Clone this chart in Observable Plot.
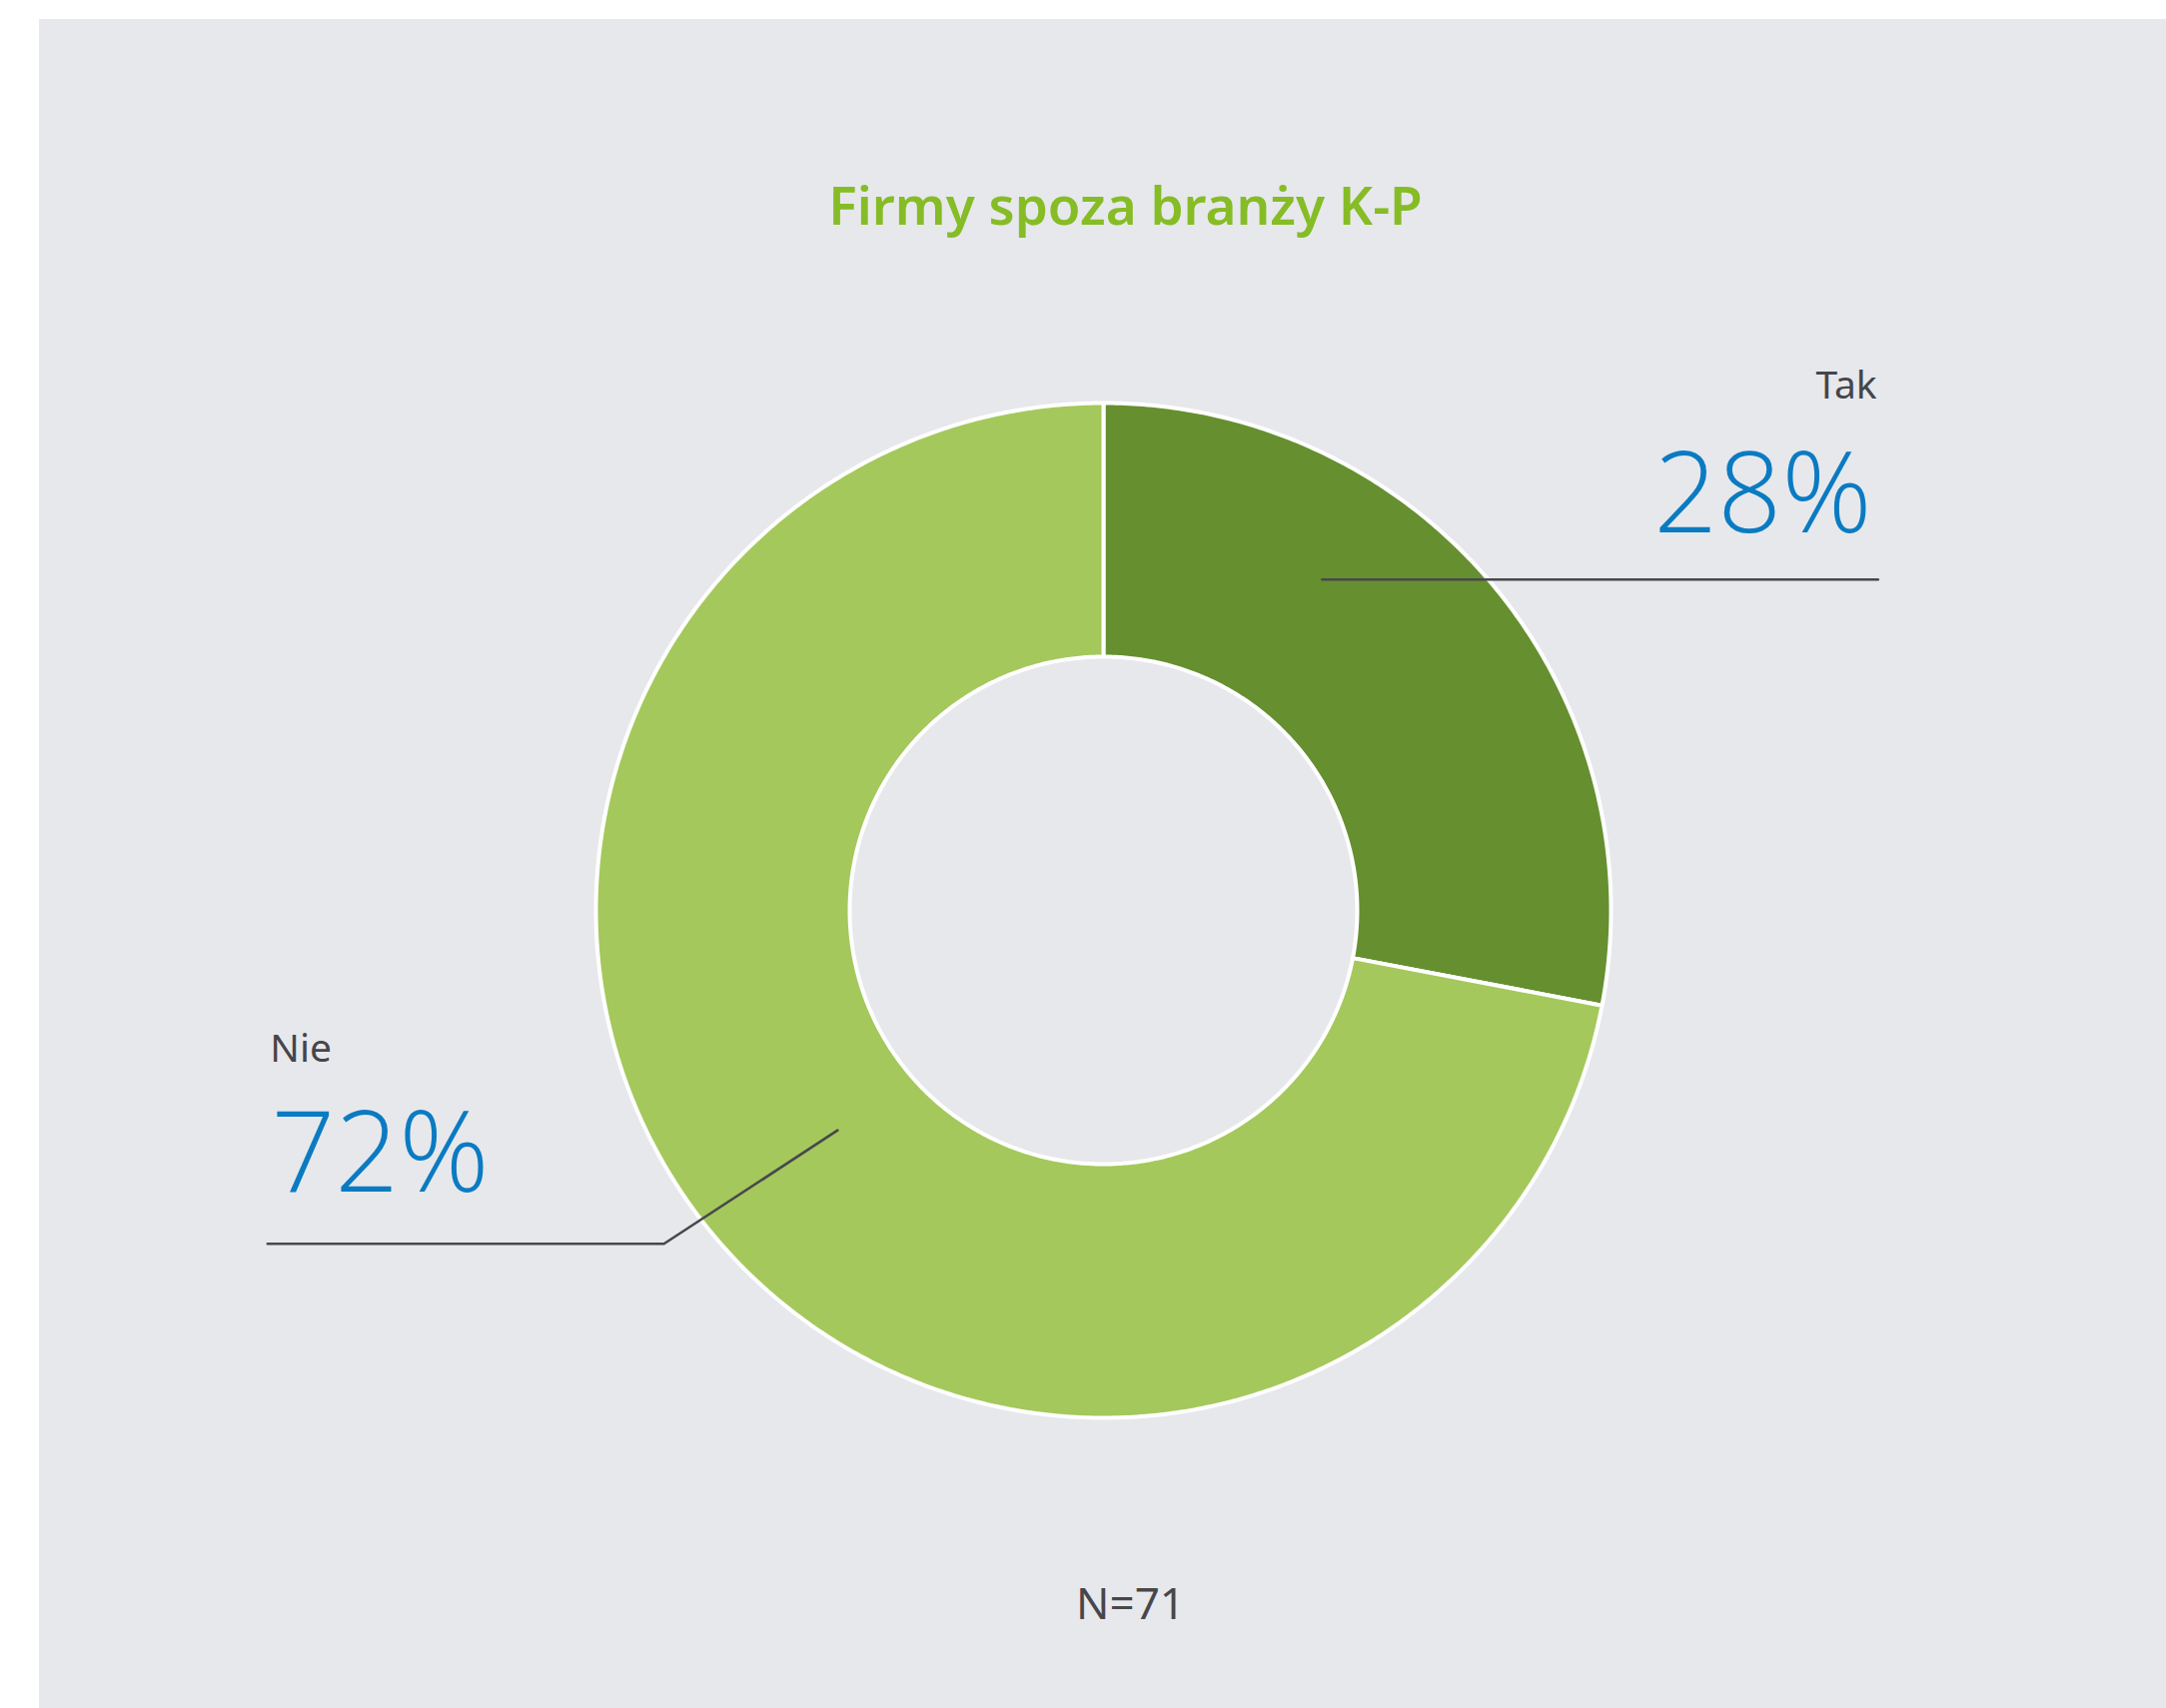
<!DOCTYPE html>
<html>
<head>
<meta charset="utf-8">
<script src="https://cdn.jsdelivr.net/npm/d3@7"></script>
<script src="https://cdn.jsdelivr.net/npm/@observablehq/plot@0.6"></script>
<style>
  html, body { margin: 0; padding: 0; background: #ffffff; }
  #page { position: relative; width: 2168px; height: 1710px; overflow: hidden; }
  #panel { position: absolute; left: 39px; top: 19px; right: 0; bottom: 0; background: #e7e8ec; }
  #chart { position: absolute; left: 0; top: 0; }
</style>
</head>
<body>
<div id="page"><div id="panel"></div><div id="chart"></div></div>
<script>
// ---- data ----
const chartTitle = "Firmy spoza branży K-P";
const caption = "N=71";
const categories = ["Tak", "Nie"];
const shares = [28, 72];
const percentLabels = ["28%", "72%"];
const sliceColors = ["#668f2f", "#a4c85c"];

// ---- layout (units of outer radius, y up, origin = donut centre) ----
const W = 2168, H = 1710;
const cx = 1104, cy = 911, R = 508;
const innerRatio = 254 / 508;
const labelLayout = {
  Tak: {name: [1.524, 1.008], pct: [1.514, 0.746], anchor: "end",
        leader: [[0.431, 0.652], [1.526, 0.652]]},
  Nie: {name: [-1.642, -0.299], pct: [-1.640, -0.555], anchor: "start",
        leaderFromMid: 0.68, leader: [[-0.866, -0.657], [-1.647, -0.657]]}
};

// ---- build slices from the data ----
const total = d3.sum(shares);
let acc = 0;
const slices = categories.map((c, i) => {
  const a0 = acc / total * 2 * Math.PI;
  acc += shares[i];
  const a1 = acc / total * 2 * Math.PI;
  return {category: c, a0, a1, mid: (a0 + a1) / 2, pct: percentLabels[i]};
});
const ringPts = [];
for (const s of slices) {
  const n = Math.max(8, Math.ceil((s.a1 - s.a0) / (Math.PI / 360)));
  const pts = [];
  for (let k = 0; k <= n; k++) {
    const a = s.a0 + (s.a1 - s.a0) * k / n;
    pts.push({category: s.category, x: Math.sin(a), y: Math.cos(a)});
  }
  for (let k = n; k >= 0; k--) {
    const a = s.a0 + (s.a1 - s.a0) * k / n;
    pts.push({category: s.category, x: innerRatio * Math.sin(a), y: innerRatio * Math.cos(a)});
  }
  pts.push({...pts[0]});
  ringPts.push(...pts);
}

// leader lines
const leaderPts = [];
for (const s of slices) {
  const L = labelLayout[s.category];
  const pts = [];
  if (L.leaderFromMid) pts.push([L.leaderFromMid * Math.sin(s.mid), L.leaderFromMid * Math.cos(s.mid)]);
  pts.push(...L.leader);
  pts.forEach(p => leaderPts.push({category: s.category, x: p[0], y: p[1]}));
}
const nameLabels = slices.map(s => ({text: s.category, x: labelLayout[s.category].name[0], y: labelLayout[s.category].name[1], anchor: labelLayout[s.category].anchor}));
const pctLabels = slices.map(s => ({text: s.pct, x: labelLayout[s.category].pct[0], y: labelLayout[s.category].pct[1], anchor: labelLayout[s.category].anchor}));

const fontMain = "'Noto Sans', 'Open Sans', sans-serif";
const fontLight = "'Open Sans', 'Lato', sans-serif";

const chart = Plot.plot({
  width: W,
  height: H,
  margin: 0,
  style: {background: "transparent", fontFamily: fontMain},
  x: {domain: [-1, 1], range: [cx - R, cx + R], axis: null},
  y: {domain: [-1, 1], range: [cy + R, cy - R], axis: null},
  color: {domain: categories, range: sliceColors},
  marks: [
    Plot.line(ringPts, {x: "x", y: "y", z: "category", fill: "category", stroke: "white", strokeWidth: 4, strokeLinejoin: "round", curve: "linear"}),
    Plot.line(leaderPts, {x: "x", y: "y", z: "category", stroke: "#48484c", strokeWidth: 2.6}),
    Plot.text(nameLabels.filter(d => d.anchor === "end"), {x: "x", y: "y", text: "text", textAnchor: "end", lineAnchor: "bottom", fontSize: 39, fill: "#45454a"}),
    Plot.text(nameLabels.filter(d => d.anchor === "start"), {x: "x", y: "y", text: "text", textAnchor: "start", lineAnchor: "bottom", fontSize: 39, fill: "#45454a"}),
    Plot.text(pctLabels.filter(d => d.anchor === "end"), {x: "x", y: "y", text: "text", textAnchor: "end", lineAnchor: "bottom", fontSize: 112, fontWeight: 300, fontFamily: fontLight, fill: "#0a7bc2"}),
    Plot.text(pctLabels.filter(d => d.anchor === "start"), {x: "x", y: "y", text: "text", textAnchor: "start", lineAnchor: "bottom", fontSize: 112, fontWeight: 300, fontFamily: fontLight, fill: "#0a7bc2"}),
    Plot.text([chartTitle], {x: () => (1126 - cx) / R, y: () => (cy - 224) / R, text: d => d, lineAnchor: "bottom", fontSize: 53, fontWeight: 600, fill: "#86bc25"}),
    Plot.text([caption], {x: () => (1131 - cx) / R, y: () => (cy - 1620) / R, text: d => d, lineAnchor: "bottom", fontSize: 44, fill: "#47474b"})
  ]
});
document.getElementById("chart").appendChild(chart);
</script>
</body>
</html>
